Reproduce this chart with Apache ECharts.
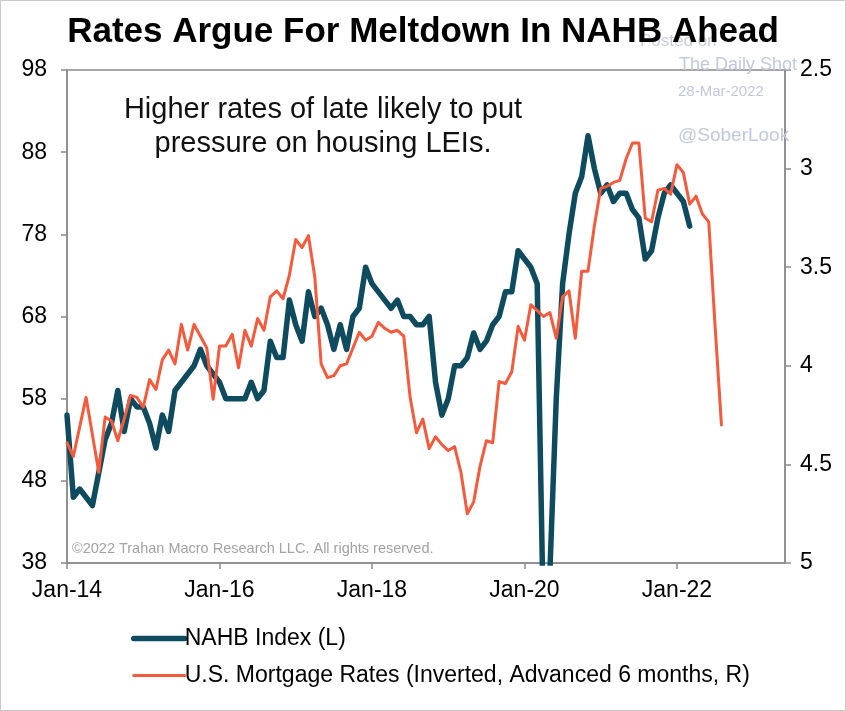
<!DOCTYPE html>
<html>
<head>
<meta charset="utf-8">
<script src="https://cdn.jsdelivr.net/npm/echarts@6/dist/echarts.min.js"></script>
<style>
  html, body { margin: 0; padding: 0; background: #fff; }
  #chart { width: 846px; height: 711px; }
</style>
</head>
<body>
<div id="chart"></div>
<script>
// Monthly observations, first value = Jan-2014
const nahbIndex = [
  56, 46, 47, 46, 45, 49, 53, 55, 59, 54, 58, 57,   // 2014
  57, 55, 52, 56, 54, 59, 60, 61, 62, 64, 62, 61,   // 2015
  60, 58, 58, 58, 58, 60, 58, 59, 65, 63, 63, 70,   // 2016
  67, 65, 71, 68, 69, 67, 64, 67, 64, 68, 69, 74,   // 2017
  72, 71, 70, 69, 70, 68, 68, 67, 67, 68, 60, 56,   // 2018
  58, 62, 62, 63, 66, 64, 65, 67, 68, 71, 71, 76,   // 2019
  75, 74, 72, 30, 37, 58, 72, 78, 83, 85, 90, 86,   // 2020
  83, 84, 82, 83, 83, 81, 80, 75, 76, 80, 83, 84,   // 2021
  83, 82, 79                                        // 2022
];
// U.S. mortgage rates (%), advanced 6 months, plotted on inverted right axis
const mortgageRates = [
  4.39, 4.46, 4.31, 4.16, 4.35, 4.54, 4.26, 4.28, 4.38, 4.27, 4.15, 4.16, // 2014
  4.21, 4.07, 4.12, 3.97, 3.92, 3.99, 3.79, 3.92, 3.79, 3.85, 3.91, 4.17, // 2015
  3.90, 3.90, 3.84, 4.01, 3.82, 3.90, 3.76, 3.82, 3.65, 3.62, 3.66, 3.54, // 2016
  3.36, 3.40, 3.34, 3.55, 3.99, 4.06, 4.05, 4.00, 3.99, 3.91, 3.83, 3.87, // 2017
  3.85, 3.78, 3.81, 3.83, 3.82, 3.85, 4.16, 4.34, 4.27, 4.42, 4.36, 4.40, // 2018
  4.43, 4.41, 4.54, 4.75, 4.69, 4.51, 4.38, 4.39, 4.08, 4.09, 4.03, 3.80, // 2019
  3.87, 3.69, 3.72, 3.75, 3.73, 3.86, 3.65, 3.62, 3.86, 3.52, 3.52, 3.29, // 2020
  3.10, 3.09, 3.07, 3.06, 2.95, 2.87, 2.87, 3.25, 3.27, 3.11, 3.10, 3.13, // 2021
  2.98, 3.02, 3.18, 3.14, 3.23, 3.27, 3.80, 4.30                          // 2022
];
const xTickMonths = [0, 24, 48, 72, 96];
const xTickLabels = ['Jan-14', 'Jan-16', 'Jan-18', 'Jan-20', 'Jan-22'];
const leftTicks = [38, 48, 58, 68, 78, 88, 98];
const rightTicks = [2.5, 3, 3.5, 4, 4.5, 5];

const FONT = "'Liberation Sans', Arial, Helvetica, sans-serif";
const AXIS_GREY = '#8a8a8a';

const nahbData = nahbIndex.map((v, i) => [i, v]);
const rateData = mortgageRates.map((v, i) => [i, v]);

const chart = echarts.init(document.getElementById('chart'), null, { renderer: 'canvas' });

const option = {
  backgroundColor: '#ffffff',
  animation: false,
  textStyle: { fontFamily: FONT },
  title: {
    text: 'Rates Argue For Meltdown In NAHB Ahead',
    left: 'center',
    top: 10,
    z: 10,
    textStyle: { fontFamily: FONT, fontSize: 35, fontWeight: 'bold', color: '#000' }
  },
  grid: {
    left: 67, right: 61, top: 70, bottom: 148,
    show: true, borderColor: AXIS_GREY, borderWidth: 1.5, backgroundColor: 'transparent'
  },
  legend: {
    orient: 'vertical',
    left: 126,
    top: 622,
    itemWidth: 51,
    itemHeight: 14,
    itemGap: 14,
    itemStyle: { opacity: 0 },
    lineStyle: { width: 'inherit', cap: 'round' },
    textStyle: { fontFamily: FONT, fontSize: 23, color: '#000', padding: [0, 0, 0, -5] },
    data: ['NAHB Index (L)', 'U.S. Mortgage Rates (Inverted, Advanced 6 months, R)']
  },
  xAxis: {
    type: 'value',
    min: 0,
    max: 113,
    axisLine: { show: true, lineStyle: { color: AXIS_GREY, width: 1.5 } },
    axisTick: { show: true, length: 6, lineStyle: { color: AXIS_GREY, width: 1.5 }, customValues: xTickMonths },
    axisLabel: {
      customValues: xTickMonths,
      margin: 16,
      fontFamily: FONT, fontSize: 23, color: '#000',
      formatter: v => { const k = xTickMonths.indexOf(v); return k >= 0 ? xTickLabels[k] : ''; }
    },
    splitLine: { show: false }
  },
  yAxis: [
    {
      type: 'value',
      position: 'left',
      min: 38, max: 98,
      axisLine: { show: true, lineStyle: { color: AXIS_GREY, width: 1.5 } },
      axisTick: { show: true, inside: false, length: 6, lineStyle: { color: AXIS_GREY, width: 1.5 }, customValues: leftTicks },
      axisLabel: { customValues: leftTicks, margin: 20, fontFamily: FONT, fontSize: 23, color: '#000' },
      splitLine: { show: false }
    },
    {
      type: 'value',
      position: 'right',
      inverse: true,
      min: 2.5, max: 5,
      axisLine: { show: true, lineStyle: { color: AXIS_GREY, width: 1.5 } },
      axisTick: { show: true, inside: false, length: 6, lineStyle: { color: AXIS_GREY, width: 1.5 }, customValues: rightTicks },
      axisLabel: { customValues: rightTicks, margin: 15, fontFamily: FONT, fontSize: 23, color: '#000' },
      splitLine: { show: false }
    }
  ],
  series: [
    {
      name: 'NAHB Index (L)',
      type: 'line',
      yAxisIndex: 0,
      data: nahbData,
      showSymbol: false,
      symbol: 'none',
      clip: true,
      lineStyle: { color: '#0f4b5f', width: 5.5, join: 'round', cap: 'round' },
      itemStyle: { color: '#0f4b5f' },
      z: 2
    },
    {
      name: 'U.S. Mortgage Rates (Inverted, Advanced 6 months, R)',
      type: 'line',
      yAxisIndex: 1,
      data: rateData,
      showSymbol: false,
      symbol: 'none',
      clip: true,
      lineStyle: { color: '#f55a3c', width: 3, join: 'round', cap: 'round' },
      itemStyle: { color: '#f55a3c' },
      z: 3
    }
  ],
  graphic: [
    { type: 'rect', silent: true, z: -1, shape: { x: 0.5, y: 0.5, width: 845, height: 710 },
      style: { fill: 'none', stroke: '#c9c9c9', lineWidth: 1 } },
    { type: 'text', x: 323, y: 93, z: 5,
      style: { text: 'Higher rates of late likely to put\npressure on housing LEIs.', fill: '#111',
               font: '29px ' + FONT, textAlign: 'center', textVerticalAlign: 'top', lineHeight: 34 } },
    { type: 'text', x: 640, y: 33, z: 1,
      style: { text: 'Posted on', fill: '#c9cbe3', font: '17px ' + FONT, textVerticalAlign: 'top' } },
    { type: 'text', x: 679, y: 56, z: 1,
      style: { text: 'The Daily Shot', fill: '#c4c7e0', font: '18px ' + FONT, textVerticalAlign: 'top' } },
    { type: 'text', x: 678, y: 84, z: 1,
      style: { text: '28-Mar-2022', fill: '#c4c7e0', font: '15px ' + FONT, textVerticalAlign: 'top' } },
    { type: 'text', x: 678, y: 126, z: 1,
      style: { text: '@SoberLook', fill: '#c4c7e0', font: '19px ' + FONT, textVerticalAlign: 'top' } },
    { type: 'text', x: 72, y: 541, z: 1,
      style: { text: '\u00a92022 Trahan Macro Research LLC. All rights reserved.', fill: '#a3a3a3',
               font: '14.5px ' + FONT, textVerticalAlign: 'top' } }
  ]
};

chart.setOption(option);
</script>
</body>
</html>
